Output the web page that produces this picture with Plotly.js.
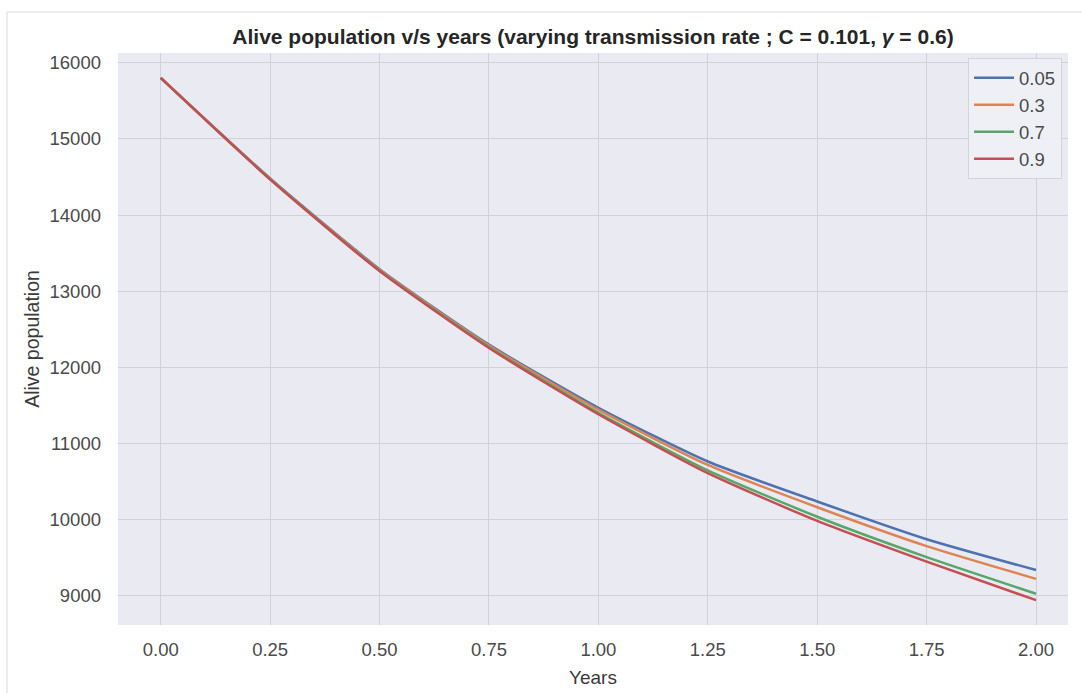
<!DOCTYPE html>
<html>
<head>
<meta charset="utf-8">
<script src="https://cdn.plot.ly/plotly-3.0.1.min.js"></script>
<style>
html,body{margin:0;padding:0;background:#fff;}
#chart{width:1082px;height:693px;}
</style>
</head>
<body>
<div id="chart"></div>
<script>
// Data
const years = [0.00, 0.25, 0.50, 0.75, 1.00, 1.25, 1.50, 1.75, 2.00];
const rateLabels = ["0.05", "0.3", "0.7", "0.9"];
const alive_005 = [15800, 14480, 13290, 12300, 11470, 10765, 10240, 9745, 9340];
const alive_03  = [15800, 14475, 13282, 12288, 11445, 10720, 10165, 9655, 9225];
const alive_07  = [15800, 14470, 13272, 12268, 11405, 10648, 10040, 9510, 9030];
const alive_09  = [15800, 14468, 13265, 12255, 11385, 10612, 9985, 9450, 8945];
const seriesValues = [alive_005, alive_03, alive_07, alive_09];
const colors = ["#4c72b0", "#dd8452", "#55a868", "#c44e52"];
const xTickVals = [0, 0.25, 0.5, 0.75, 1.0, 1.25, 1.5, 1.75, 2.0];
const xTickText = ["0.00", "0.25", "0.50", "0.75", "1.00", "1.25", "1.50", "1.75", "2.00"];
const yTickVals = [9000, 10000, 11000, 12000, 13000, 14000, 15000, 16000];
const yTickText = ["9000", "10000", "11000", "12000", "13000", "14000", "15000", "16000"];

const traces = rateLabels.map((name, i) => ({
  x: years,
  y: seriesValues[i],
  type: "scatter",
  mode: "lines",
  name: name,
  line: {color: colors[i], width: 2.5, shape: "spline", smoothing: 0.6}
}));

const font = "Liberation Sans, Arial, sans-serif";
const layout = {
  width: 1082, height: 693,
  margin: {l: 118, r: 14, t: 53, b: 68},
  paper_bgcolor: "#ffffff",
  plot_bgcolor: "#eaeaf2",
  font: {family: font, color: "#262626", size: 18},
  title: {
    text: "<b>Alive population v/s years (varying transmission rate ; C = 0.101, <i>\u03b3</i> = 0.6)</b>",
    font: {family: font, size: 21, color: "#262626"},
    x: 0.5, xref: "paper", y: 1 - 37/693, yref: "container", yanchor: "middle"
  },
  xaxis: {
    range: [-0.0976, 2.073],
    tickvals: xTickVals,
    ticktext: xTickText,
    showgrid: true, gridcolor: "#cfd1dc", gridwidth: 1,
    zeroline: false, showline: false, ticks: "",
    ticklabelstandoff: 11,
    tickfont: {size: 18.5, color: "#4a4a4a"},
    title: {text: "Years", font: {size: 19, color: "#3a3a3a"}, standoff: 12},
    automargin: false
  },
  yaxis: {
    range: [8619, 16127],
    tickvals: yTickVals,
    ticktext: yTickText,
    showgrid: true, gridcolor: "#cfd1dc", gridwidth: 1,
    zeroline: false, showline: false, ticks: "",
    ticklabelstandoff: 16,
    tickfont: {size: 18.5, color: "#4a4a4a"},
    title: {text: "Alive population", font: {size: 19.5, color: "#3a3a3a"}, standoff: 4},
    automargin: false
  },
  legend: {
    x: 0.9937, xanchor: "right", y: 0.991, yanchor: "top",
    bgcolor: "rgba(240,241,246,0.9)", bordercolor: "#d4d4dc", borderwidth: 1,
    font: {size: 18.5, color: "#4a4a4a"},
    itemwidth: 40
  },
  showlegend: true,
  shapes: [{
    type: "rect", xref: "paper", yref: "paper",
    x0: (7 - 118) / 950, x1: (1100 - 118) / 950,
    y0: -(700 - 625) / 572, y1: 1 + (53 - 12) / 572,
    line: {color: "#d9d9d9", width: 1}, fillcolor: "rgba(0,0,0,0)", layer: "below"
  }]
};

Plotly.newPlot("chart", traces, layout, {displayModeBar: false, staticPlot: true});
</script>
</body>
</html>
